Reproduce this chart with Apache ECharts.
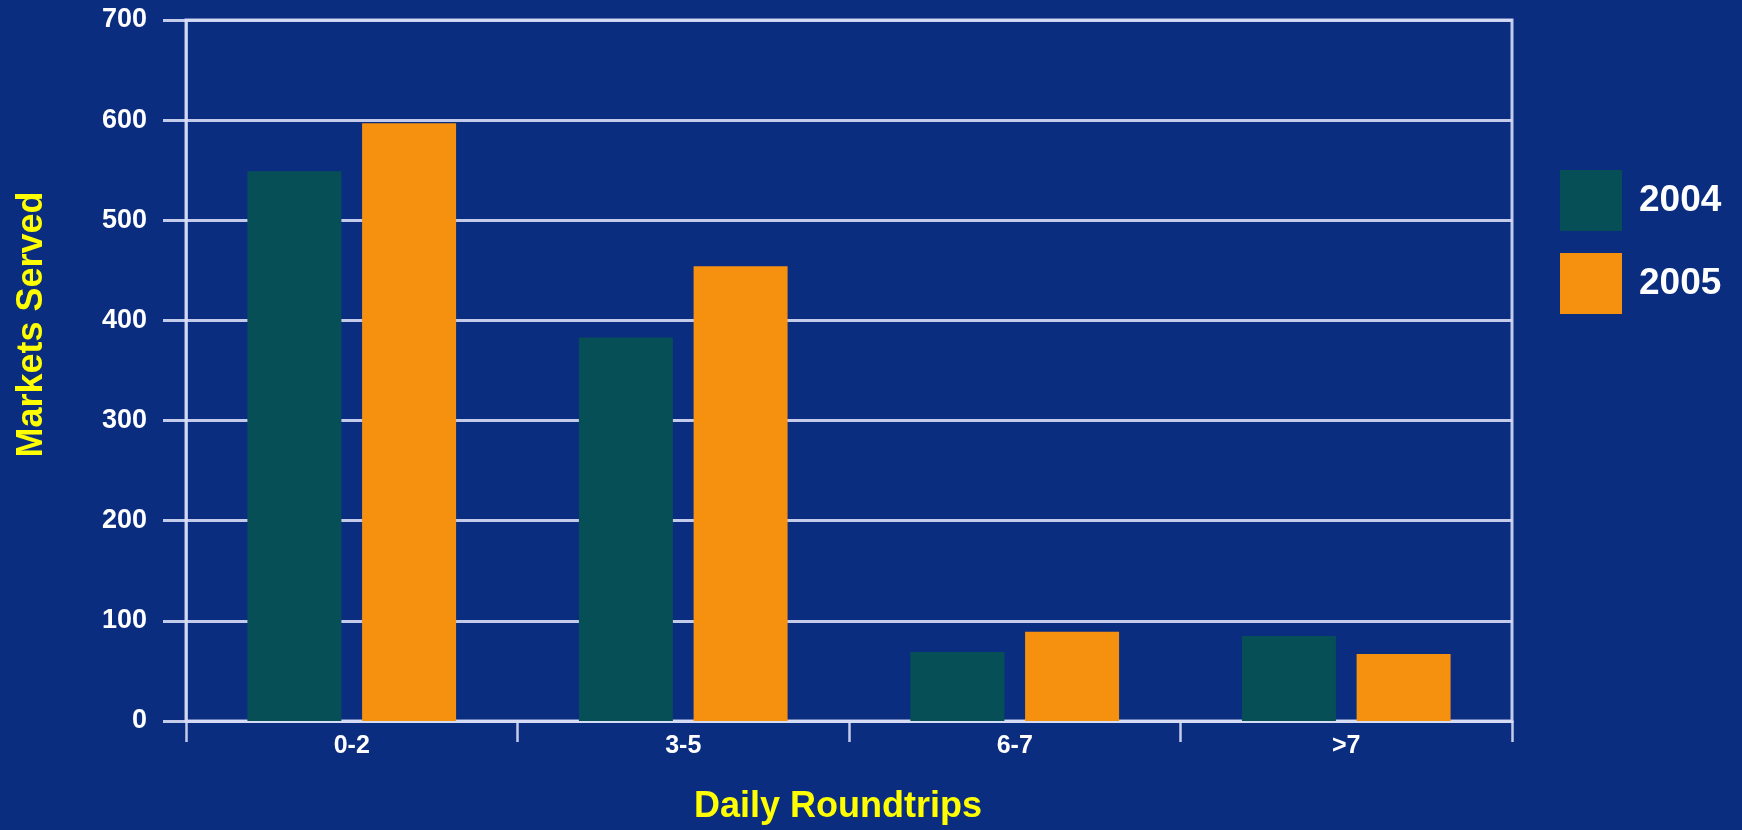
<!DOCTYPE html>
<html>
<head>
<meta charset="utf-8">
<script src="https://cdn.jsdelivr.net/npm/echarts@6/dist/echarts.min.js"></script>
<style>
  html, body { margin: 0; padding: 0; background: #0b2d80; }
  #chart { width: 1742px; height: 830px; }
</style>
</head>
<body>
<div id="chart"></div>
<script>
// categories and values
const categories = ['0-2', '3-5', '6-7', '>7']
const years = ['2004', '2005']
const markets2004 = [549, 383, 69, 85]
const markets2005 = [597, 454, 89, 67]
const yTicks = { min: 0, max: 700, step: 100 }

const gridColor = 'rgba(215,220,245,0.9)'
const font = 'Liberation Sans, Arial, sans-serif'

const chart = echarts.init(document.getElementById('chart'))

const option = {
  backgroundColor: '#0b2d80',
  animation: false,
  grid: {
    left: 186,
    right: 230,
    top: 20,
    bottom: 108,
    show: true,
    borderColor: gridColor,
    borderWidth: 3,
  },
  legend: {
    orient: 'vertical',
    left: 1555,
    top: 165,
    itemWidth: 62,
    itemHeight: 61,
    itemGap: 22,
    icon: 'rect',
    data: years,
    textStyle: {
      color: '#ffffff',
      fontSize: 37,
      fontWeight: 'bold',
      fontFamily: font,
      padding: [0, 0, 0, 12],
    },
  },
  xAxis: {
    type: 'category',
    data: categories,
    name: 'Daily Roundtrips',
    nameLocation: 'middle',
    nameGap: 68,
    nameTextStyle: {
      color: '#ffff00',
      fontSize: 36,
      fontWeight: 'bold',
      fontFamily: font,
      padding: [0, 22, 0, 0],
    },
    axisLine: { lineStyle: { color: gridColor, width: 3 } },
    axisTick: { show: true, length: 21, lineStyle: { color: gridColor, width: 2.5 } },
    axisLabel: {
      color: '#ffffff',
      fontSize: 25,
      fontWeight: 'bold',
      fontFamily: font,
      margin: 13,
    },
  },
  yAxis: {
    type: 'value',
    min: yTicks.min,
    max: yTicks.max,
    interval: yTicks.step,
    name: 'Markets Served',
    nameLocation: 'middle',
    nameGap: 136,
    nameTextStyle: {
      color: '#ffff00',
      fontSize: 36,
      fontWeight: 'bold',
      fontFamily: font,
      padding: [0, 0, 0, 92],
    },
    axisLine: { show: true, lineStyle: { color: gridColor, width: 2.5 } },
    axisTick: { show: true, length: 23, lineStyle: { color: gridColor, width: 3 } },
    splitLine: { lineStyle: { color: gridColor, width: 3 } },
    axisLabel: {
      color: '#ffffff',
      fontSize: 27,
      fontWeight: 'bold',
      fontFamily: font,
      margin: 39,
      padding: [4, 0, 0, 0],
    },
  },
  series: [
    {
      name: years[0],
      type: 'bar',
      data: markets2004,
      barWidth: 94,
      barGap: '22%',
      itemStyle: { color: '#074f57' },
    },
    {
      name: years[1],
      type: 'bar',
      data: markets2005,
      barWidth: 94,
      barGap: '22%',
      itemStyle: { color: '#f6900f' },
    },
  ],
}

chart.setOption(option)
</script>
</body>
</html>
